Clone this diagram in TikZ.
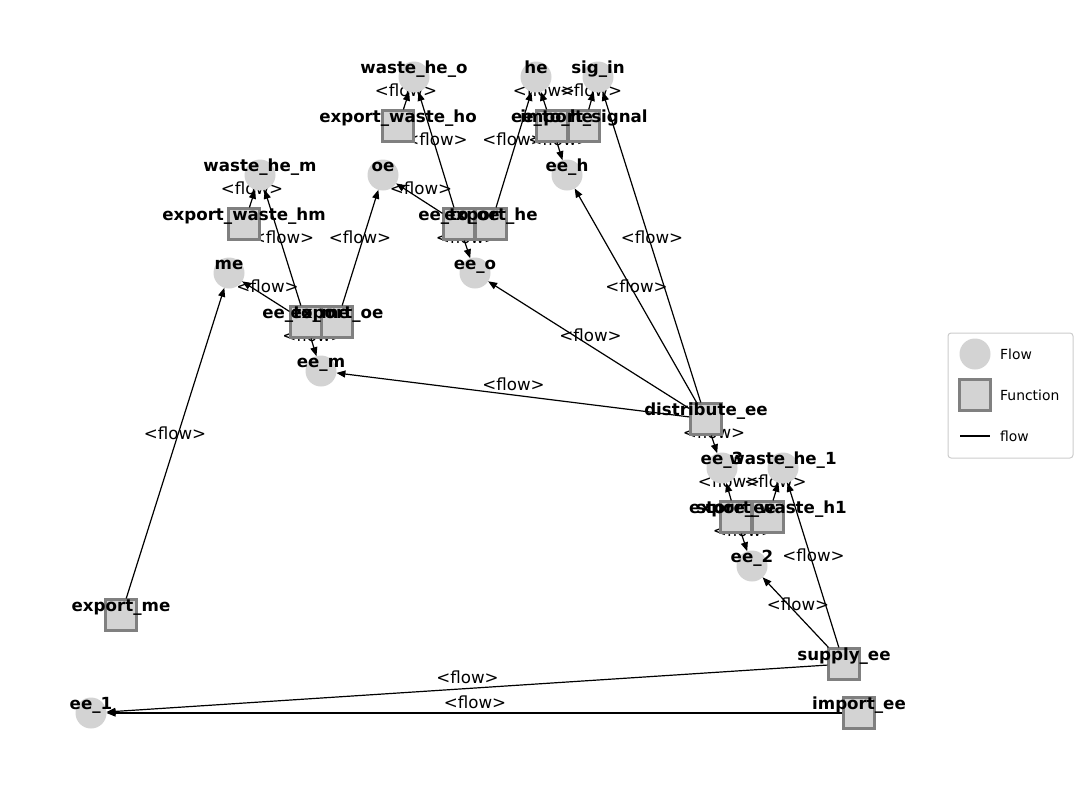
\documentclass[tikz,border=0pt]{standalone}
\usepackage{fontspec}
\setmainfont{DejaVu Sans}
\usetikzlibrary{arrows.meta,backgrounds}

\definecolor{flowgray}{HTML}{D3D3D3}
\definecolor{funcedge}{HTML}{808080}
\definecolor{legendframe}{HTML}{CCCCCC}

\tikzset{
	flownode/.style={circle, fill=flowgray, minimum size=31pt, inner sep=0pt, outer sep=0pt},
	funcnode/.style={rectangle, fill=flowgray, draw=funcedge, line width=2.2pt, minimum size=31pt, inner sep=0pt},
	namelabel/.style={font=\fontsize{16.67}{20}\selectfont\bfseries, anchor=base, inner sep=0pt},
	edgelabel/.style={font=\fontsize{16.67}{20}\selectfont, anchor=base, inner sep=0pt, yshift=5pt},
	flowedge/.style={-{Triangle[length=9pt,width=7pt]}, line width=1.2pt},
	legendtext/.style={font=\fontsize{13.9}{16}\selectfont, anchor=west, inner sep=0pt},
}

\def\edgelist{expwasteho/wasteheo, eetooe/wasteheo, exporthe/he, eetohe/he,
	importsignal/sigin, distributeee/sigin, eetohe/eeh, distributeee/eeh,
	expwastehm/wastehem, eetome/wastehem, eetooe/oe, exportoe/oe,
	eetome/me, exportme/me, eetooe/eeo, distributeee/eeo,
	eetome/eem, distributeee/eem, distributeee/eethree, storeee/eethree,
	expwastehone/wasteheone, supplyee/wasteheone, storeee/eetwo, supplyee/eetwo,
	supplyee/eeone, importee/eeone}

\begin{document}
\begin{tikzpicture}[x=1pt, y=-1pt]
	\useasboundingbox (0,0) rectangle (1082,790);
	% flows
	\node [flownode] (wasteheo) at (414,77) {};
	\node [flownode] (he) at (536,77) {};
	\node [flownode] (sigin) at (598,77) {};
	\node [flownode] (wastehem) at (260,175) {};
	\node [flownode] (oe) at (383,175) {};
	\node [flownode] (eeh) at (567,175) {};
	\node [flownode] (me) at (229,273) {};
	\node [flownode] (eeo) at (475,273) {};
	\node [flownode] (eem) at (321,371) {};
	\node [flownode] (eethree) at (722,468) {};
	\node [flownode] (wasteheone) at (783,468) {};
	\node [flownode] (eetwo) at (752,566) {};
	\node [flownode] (eeone) at (91,713) {};
	% functions
	\node [funcnode] (expwasteho) at (398,126) {};
	\node [funcnode] (eetohe) at (552,126) {};
	\node [funcnode] (importsignal) at (584,126) {};
	\node [funcnode] (expwastehm) at (244,224) {};
	\node [funcnode] (eetooe) at (459,224) {};
	\node [funcnode] (exporthe) at (491,224) {};
	\node [funcnode] (eetome) at (306,322) {};
	\node [funcnode] (exportoe) at (337,322) {};
	\node [funcnode] (distributeee) at (706,419) {};
	\node [funcnode] (storeee) at (736,517) {};
	\node [funcnode] (expwastehone) at (768,517) {};
	\node [funcnode] (exportme) at (121,615) {};
	\node [funcnode] (supplyee) at (844,664) {};
	\node [funcnode] (importee) at (859,713) {};
	% edges
	\foreach \a/\b in \edgelist
		\draw [flowedge] (\a) -- (\b);
	\begin{pgfonlayer}{background}
		\foreach \a/\b in \edgelist
			\path (\a.center) -- (\b.center) node [edgelabel, midway] {<flow>};
	\end{pgfonlayer}
	% names
	\foreach \n/\t in {wasteheo/waste\_he\_o, he/he, sigin/sig\_in, wastehem/waste\_he\_m,
		oe/oe, eeh/ee\_h, me/me, eeo/ee\_o, eem/ee\_m, eethree/ee\_3, wasteheone/waste\_he\_1,
		eetwo/ee\_2, eeone/ee\_1, expwasteho/export\_waste\_ho, eetohe/ee\_to\_he,
		importsignal/import\_signal, expwastehm/export\_waste\_hm, eetooe/ee\_to\_oe,
		exporthe/export\_he, eetome/ee\_to\_me, exportoe/export\_oe, distributeee/distribute\_ee,
		storeee/store\_ee, expwastehone/export\_waste\_h1, exportme/export\_me,
		supplyee/supply\_ee, importee/import\_ee}
		\node [namelabel] at ([yshift=4pt]\n.center) {\t};
	% legend
	\draw [legendframe, fill=white, rounded corners=3pt, line width=1pt] (948,333) rectangle (1073,458);
	\node [flownode] (legflow) at (975,354) {};
	\node [legendtext] (legflowtext) at (1000,354) {Flow};
	\node [funcnode] (legfunc) at (975,395) {};
	\node [legendtext] (legfunctext) at (1000,395) {Function};
	\coordinate (legstart) at (960,436);
	\coordinate (legend) at (990,436);
	\draw [line width=2pt] (legstart) -- (legend);
	\node [legendtext] (legedgetext) at (1000,436) {flow};
\end{tikzpicture}
\end{document}
